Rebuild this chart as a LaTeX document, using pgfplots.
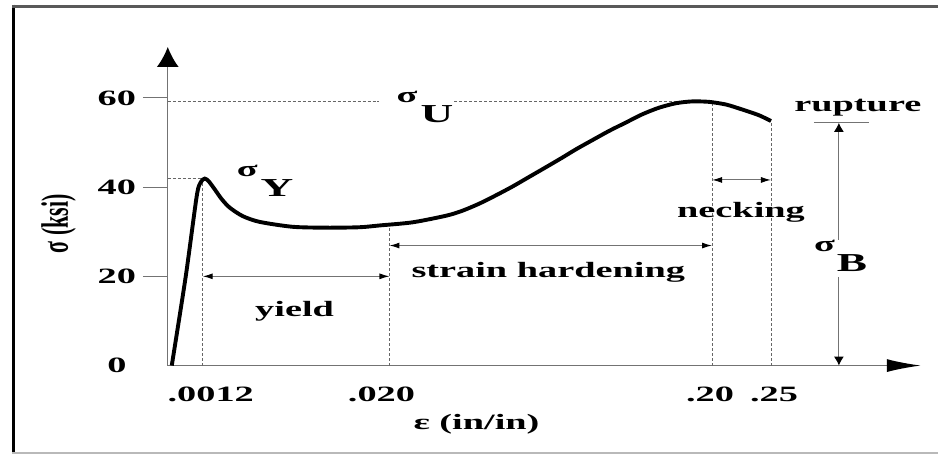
\documentclass[border=0pt]{standalone}
\usepackage{pgfplots}
\pgfplotsset{compat=1.18}
\usepackage{fontspec}
\setmainfont{Liberation Serif}[FakeStretch=1.75]
\newfontfamily\plainserif{Liberation Serif}
\usetikzlibrary{arrows.meta}
\definecolor{axgray}{gray}{0.45}
\definecolor{dashgray}{gray}{0.40}
\tikzset{lab/.style={font=\fontsize{22}{26}\selectfont\bfseries, inner sep=0pt}}
\pgfplotsset{guide/.style={dashgray, line width=0.9bp, dash pattern=on 3bp off 2bp},
  dim/.style={axgray, line width=1.1bp,
  {Latex[length=10bp,width=6bp,color=black]}-{Latex[length=10bp,width=6bp,color=black]}}}
\begin{document}
\begin{tikzpicture}
\begin{axis}[
  scale only axis, width=754bp, height=319bp,
  xmin=168, xmax=922, ymin=0, ymax=71.4,
  enlargelimits=false, clip=false,
  axis lines=left,
  axis line style={draw=axgray, line width=1.3bp},
  x axis line style={-{Latex[length=34bp,width=13bp,color=black]}},
  y axis line style={-{Latex[length=20bp,width=22bp,color=black]}},
  xtick={211,382,711,775}, xticklabels={.0012,.020,.20,.25},
  xtick style={draw=none},
  ytick={20,40,60}, yticklabels={20,40,60},
  extra y ticks={0}, extra y tick labels={0},
  extra y tick style={ytick style={draw=none}},
  ytick style={draw=axgray, line width=1bp},
  tick align=outside, major tick length=25bp,
  tick label style={font=\fontsize{22}{26}\selectfont\bfseries},
  yticklabel style={anchor=center, xshift=-26bp},
  xticklabel style={anchor=base, yshift=-11bp},
  xlabel={\bfseries ε (in/in)},
  xlabel style={at={(axis description cs:0.41,-0.200)}, anchor=base, font=\fontsize{22}{26}\selectfont},
  ylabel={\scalebox{1}[1.75]{\plainserif\bfseries σ (ksi)}},
  ylabel style={at={(axis description cs:-0.145,0.445)}, anchor=center, rotate=0, font=\fontsize{22}{26}\selectfont},
]
% invisible bounding box of the whole figure
\path (axis cs:0,81.93) rectangle (axis cs:939,-19.92);
% frame
\draw[black, line width=3.5bp] (axis cs:13.5,80.9) -- (axis cs:13.5,-19.6);
\draw[gray!70!black, line width=2.5bp] (axis cs:12,80.48) -- (axis cs:939,80.48);
\draw[gray!55, line width=1.2bp] (axis cs:12,-19.6) -- (axis cs:939,-19.6);

% dashed guide lines
\addplot[guide] coordinates {(168,41.9) (205,41.9)};
\addplot[guide] coordinates {(203,0) (203,41.9)};
\addplot[guide] coordinates {(390,0) (390,31.3)};
\addplot[guide] coordinates {(713,0) (713,59.1)};
\addplot[guide] coordinates {(772,0) (772,54.8)};
\addplot[guide] coordinates {(168,59.1) (380,59.1)};
\addplot[guide] coordinates {(455,59.1) (705,59.1)};

% dimension arrows
\addplot[dim] coordinates {(203,20) (390,20)};
\addplot[dim] coordinates {(390,26.9) (713,26.9)};
\addplot[dim] coordinates {(713,41.6) (772,41.6)};
\addplot[axgray, line width=1.1bp] coordinates {(815,54.4) (870,54.4)};
\addplot[axgray, line width=1.1bp, -{Latex[length=9bp,width=10bp,color=black]}] coordinates {(840,28.2) (840,54.4)};
\addplot[axgray, line width=1.1bp, -{Latex[length=9bp,width=10bp,color=black]}] coordinates {(840,19.9) (840,0)};

% stress-strain curve
\addplot[black, line width=3.9bp, smooth, tension=0.45] coordinates {
 (172,0) (186,20) (197,38) (201,41.1) (205,41.9) (209,41.3) (215,39.5)
 (222,37.3) (230,35.4) (243,33.5) (260,32.2) (293,31.1) (327,30.9)
 (360,31.0) (380,31.4) (413,32.1) (447,33.6) (463,34.7) (480,36.3)
 (497,38.2) (513,40.1) (530,42.3) (547,44.5) (563,46.6) (577,48.5)
 (593,50.5) (610,52.6) (627,54.5) (643,56.3) (660,57.8) (677,58.8)
 (693,59.2) (710,59.1) (727,58.5) (743,57.4) (760,56.1) (772,54.8)};

% labels
\node[lab, anchor=base west] at (axis cs:397,58.9) {σ\hspace{3bp}\raisebox{-20bp}{\fontsize{26}{30}\selectfont U}};
\node[lab, anchor=base west] at (axis cs:237,42.3) {σ\hspace{3bp}\raisebox{-20bp}{\fontsize{26}{30}\selectfont Y}};
\node[lab, anchor=base west] at (axis cs:815,25.5) {σ\hspace{2bp}\raisebox{-20bp}{\fontsize{26}{30}\selectfont B}};
\node[lab, anchor=base] at (axis cs:295,10.97) {yield};
\node[lab, anchor=base] at (axis cs:549,19.7) {strain hardening};
\node[lab, anchor=base] at (axis cs:742,33.1) {necking};
\node[lab, anchor=base] at (axis cs:859,56.9) {rupture};
\end{axis}
\end{tikzpicture}
\end{document}
